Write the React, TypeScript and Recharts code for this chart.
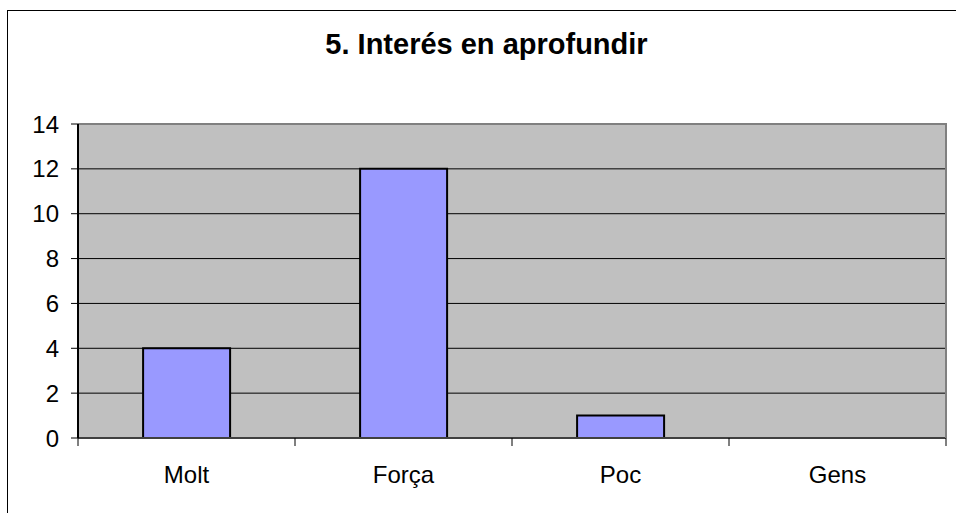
import { BarChart, Bar, XAxis, YAxis, CartesianGrid, ReferenceLine } from "recharts"

const categories = ["Molt", "Força", "Poc", "Gens"]
const counts = [4, 12, 1, 0]
const yTicks = [0, 2, 4, 6, 8, 10, 12, 14]

const data = categories.map((name, i) => ({ name, value: counts[i] }))

const FONT = "'Liberation Sans', Arial, sans-serif"

function CategoryTick(props: any) {
  const { x, y, payload, index } = props
  const half = payload && payload.offset ? payload.offset : 108.5
  return (
    <g>
      <line x1={x - half} x2={x - half} y1={y} y2={y + 8} stroke="#000" strokeWidth={1} />
      {index === categories.length - 1 && (
        <line x1={x + half} x2={x + half} y1={y} y2={y + 8} stroke="#000" strokeWidth={1} />
      )}
      <text x={x} y={y + 45} textAnchor="middle" fill="#000" fontSize={24} fontFamily={FONT}>
        {payload.value}
      </text>
    </g>
  )
}

export default function App() {
  return (
    <div style={{ position: "absolute", left: 0, top: 0, width: 956, height: 513, overflow: "hidden", background: "#fff" }}>
      <div
        style={{
          position: "absolute",
          left: 0,
          top: 28,
          width: 973,
          textAlign: "center",
          fontFamily: FONT,
          fontWeight: "bold",
          fontSize: 29,
          color: "#000",
        }}
      >
        5. Interés en aprofundir
      </div>
      <div style={{ position: "absolute", left: 0, top: 0 }}>
        <BarChart
          width={956}
          height={513}
          data={data}
          margin={{ top: 124, right: 10, bottom: 0, left: 0 }}
          barCategoryGap="30%"
        >
          <CartesianGrid
            vertical={false}
            stroke="#000"
            fill="#C0C0C0"
            fillOpacity={1}
          />
          <XAxis
            dataKey="name"
            height={75}
            axisLine={{ stroke: "#404040", strokeWidth: 2 }}
            tickLine={false}
            tickSize={0}
            tickMargin={0}
            interval={0}
            tick={<CategoryTick />}
          />
          <YAxis
            width={78}
            domain={[0, 14]}
            ticks={yTicks}
            interval={0}
            axisLine={{ stroke: "#000", strokeWidth: 2 }}
            tickLine={{ stroke: "#000" }}
            tickSize={7}
            tickMargin={12}
            tick={{ fill: "#000", fontSize: 24, fontFamily: FONT }}
          />
          <ReferenceLine y={14} stroke="#808080" strokeWidth={2} />
          <Bar
            dataKey="value"
            fill="#9999FF"
            stroke="#000"
            strokeWidth={2}
            isAnimationActive={false}
          />
        </BarChart>
      </div>
      <div
        style={{
          position: "absolute",
          left: 945,
          top: 123,
          width: 2,
          height: 315,
          background: "#808080",
        }}
      />
      <div style={{ position: "absolute", left: 7, top: 10, width: 949, height: 1, background: "#000" }} />
      <div style={{ position: "absolute", left: 7, top: 10, width: 1, height: 503, background: "#000" }} />
    </div>
  )
}
